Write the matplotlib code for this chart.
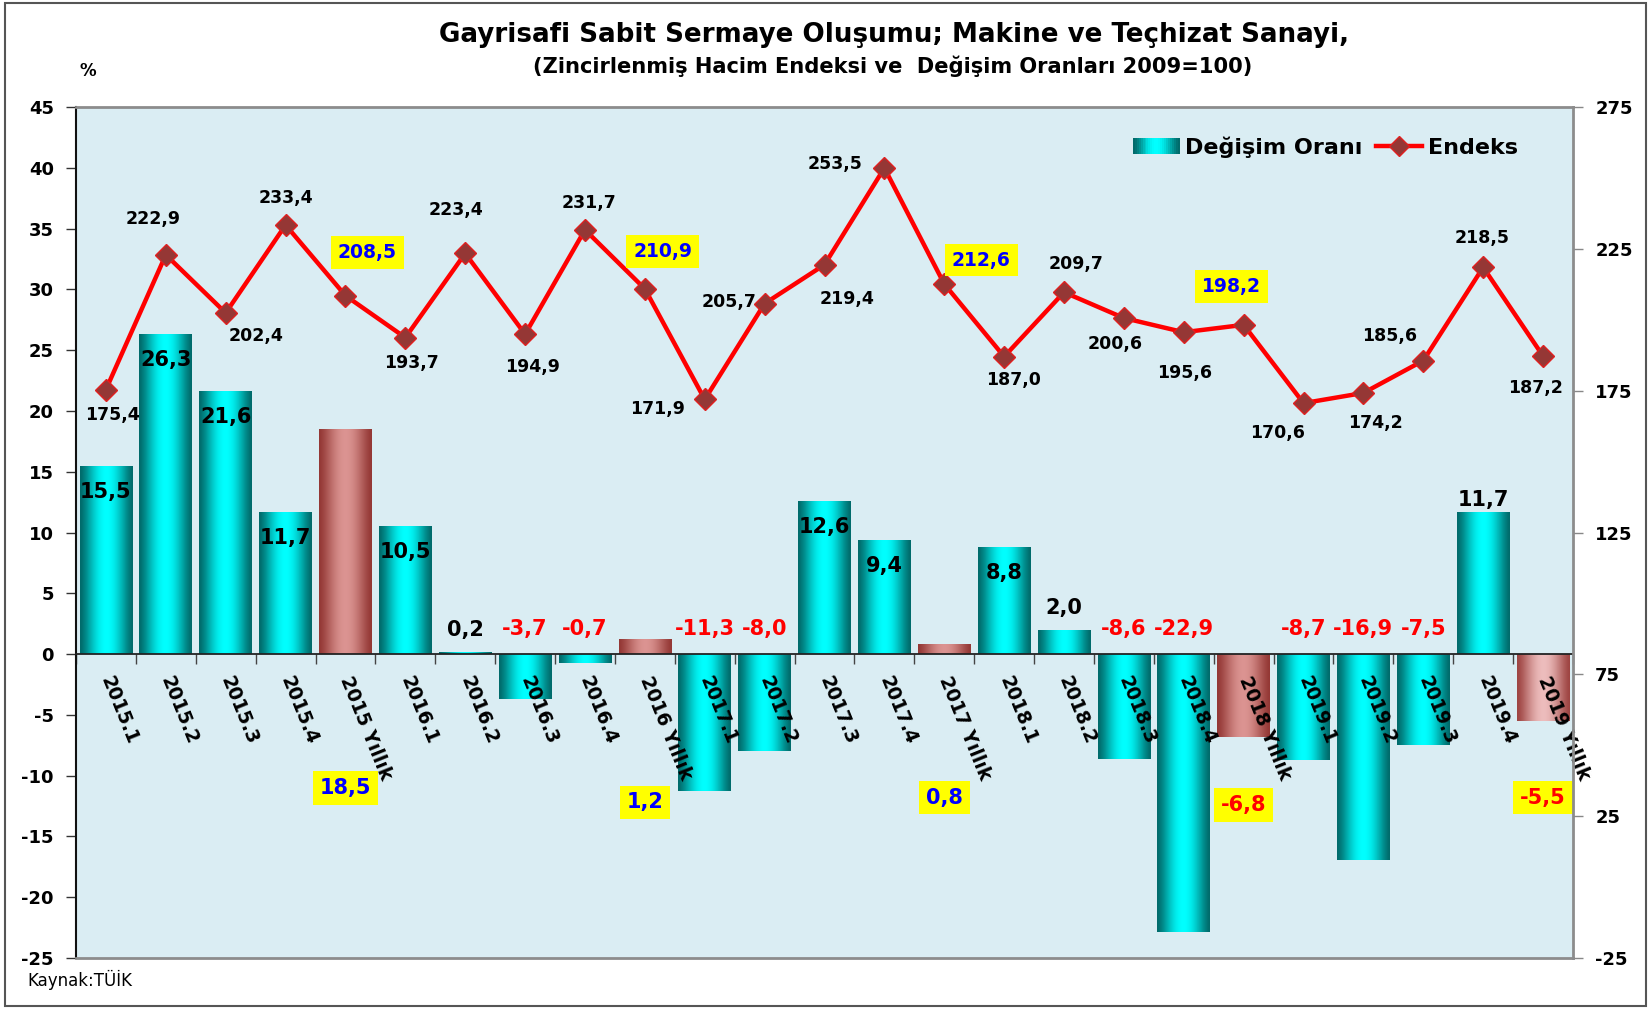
import numpy as np
import matplotlib
matplotlib.use('Agg')
import matplotlib.pyplot as plt
from matplotlib.patches import Rectangle
from matplotlib.lines import Line2D
from matplotlib.legend_handler import HandlerBase

plt.rcParams['font.family'] = ['DejaVu Sans']

# ---------------- data ----------------
categories = ['2015.1', '2015.2', '2015.3', '2015.4', '2015 Yıllık',
              '2016.1', '2016.2', '2016.3', '2016.4', '2016 Yıllık',
              '2017.1', '2017.2', '2017.3', '2017.4', '2017 Yıllık',
              '2018.1', '2018.2', '2018.3', '2018.4', '2018 Yıllık',
              '2019.1', '2019.2', '2019.3', '2019.4', '2019 Yıllık']
degisim = [15.5, 26.3, 21.6, 11.7, 18.5, 10.5, 0.2, -3.7, -0.7, 1.2,
           -11.3, -8.0, 12.6, 9.4, 0.8, 8.8, 2.0, -8.6, -22.9, -6.8,
           -8.7, -16.9, -7.5, 11.7, -5.5]
endeks = [175.4, 222.9, 202.4, 233.4, 208.5, 193.7, 223.4, 194.9, 231.7, 210.9,
          171.9, 205.7, 219.4, 253.5, 212.6, 187.0, 209.7, 200.6, 195.6, 198.2,
          170.6, 174.2, 185.6, 218.5, 187.2]
left_ticks = [-25, -20, -15, -10, -5, 0, 5, 10, 15, 20, 25, 30, 35, 40, 45]
right_ticks = [-25, 25, 75, 125, 175, 225, 275]

title = 'Gayrisafi Sabit Sermaye Oluşumu; Makine ve Teçhizat Sanayi,'
subtitle = '(Zincirlenmiş Hacim Endeksi ve  Değişim Oranları 2009=100)'

# ---------------- styles (label placement, pixels) ----------------
line_lbl_off = [(6, 25), (-13, -36), (30, 23), (0, -27), (22, -43),
                (6, 25), (-9, -43), (7, 33), (4, -27), (18, -37),
                (-47, 10), (-36, -2), (23, 34), (-49, -4), (37, -24),
                (9, 23), (12, -28), (-9, 26), (1, 41), (-12, -38),
                (-26, 30), (12, 30), (-34, -25), (-1, -29), (-8, 32)]
line_lbl_boxed = {4, 9, 14, 19}
bar_lbl_y_year = {4: -11.0, 9: -12.2, 14: -11.8, 19: -12.4, 24: -11.8}

W, H = 1650, 1009
fig = plt.figure(figsize=(W / 100, H / 100), dpi=100)
ax_l, ax_r, ax_t, ax_b = 76, 1573, 107, 958
ax = fig.add_axes([ax_l / W, 1 - ax_b / H, (ax_r - ax_l) / W, (ax_b - ax_t) / H])
ax2 = ax.twinx()

ax.set_facecolor('#DAEDF3')
n = len(categories)
x = np.arange(n)
is_year = ['Yıllık' in c for c in categories]


def gradient(edge, mid, m=96):
    t = np.linspace(0, 1, m)
    w = np.sin(np.pi * t) ** 1.4
    e = np.array(edge)
    c = np.array(mid)
    g = e[None, :] * (1 - w[:, None]) + c[None, :] * w[:, None]
    return g[None, :, :]


cyan_edge, cyan_mid = (0.0, 0.42, 0.42), (0.0, 1.0, 1.0)
year_edge, year_mid = (0.58, 0.22, 0.21), (0.86, 0.58, 0.57)
year2_edge, year2_mid = (0.62, 0.27, 0.26), (0.93, 0.74, 0.74)

bw = 0.88
bars = ax.bar(x, degisim, width=bw, color='none', edgecolor='none', zorder=2)
for i, (b, v) in enumerate(zip(bars, degisim)):
    if is_year[i]:
        if i == n - 1:
            g = gradient(year2_edge, year2_mid)
        else:
            g = gradient(year_edge, year_mid)
    else:
        g = gradient(cyan_edge, cyan_mid)
    x0 = b.get_x()
    im = ax.imshow(g, extent=[x0, x0 + bw, min(0, v), max(0, v)], aspect='auto',
                   interpolation='bilinear', zorder=2)
    im.set_clip_path(b)

ax.set_xlim(-0.5, n - 0.5)
ax.set_ylim(-25, 45)
ax.set_yticks(left_ticks)
ax.set_yticklabels([str(t) for t in left_ticks], fontsize=13, fontweight='bold')
ax.tick_params(axis='y', direction='out', length=7, width=1, color='#333333', pad=9)

# x axis at zero
ax.spines['bottom'].set_position(('data', 0))
ax.spines['bottom'].set_color('#222222')
ax.spines['bottom'].set_linewidth(1.3)
ax.spines['left'].set_color('#111111')
ax.spines['left'].set_linewidth(1.5)
ax.spines['top'].set_visible(False)
ax.spines['right'].set_visible(False)
ax.set_xticks(np.arange(-0.5, n, 1.0))
ax.set_xticklabels([])
ax.tick_params(axis='x', direction='out', length=7, width=1, color='#444444')

for i, c in enumerate(categories):
    ax.annotate(c, xy=(i, 0), xytext=(0, -23), textcoords='offset pixels',
                rotation=-68, rotation_mode='anchor', ha='left', va='center',
                fontsize=13.5, fontweight='bold', color='black', zorder=6)


def fmt(v):
    return f'{v:.1f}'.replace('.', ',')


for i, v in enumerate(degisim):
    if is_year[i]:
        col = '#0000FF' if v > 0 else '#FF0000'
        ax.text(i, bar_lbl_y_year[i], fmt(v), ha='center', va='center', fontsize=15,
                fontweight='bold', color=col, zorder=7,
                bbox=dict(facecolor='#FFFF00', edgecolor='none', pad=5))
    elif v < 0:
        ax.annotate(fmt(v), xy=(i, 0), xytext=(0, 25), textcoords='offset pixels',
                    ha='center', va='center', fontsize=15, fontweight='bold',
                    color='#FF0000', zorder=7)
    elif i == n - 2:
        ax.annotate(fmt(v), xy=(i, v), xytext=(0, 12), textcoords='offset pixels',
                    ha='center', va='center', fontsize=15, fontweight='bold',
                    color='black', zorder=7)
    elif v > 5:
        ax.annotate(fmt(v), xy=(i, v), xytext=(0, -26), textcoords='offset pixels',
                    ha='center', va='center', fontsize=15, fontweight='bold',
                    color='black', zorder=7)
    else:
        ax.annotate(fmt(v), xy=(i, v), xytext=(0, 22), textcoords='offset pixels',
                    ha='center', va='center', fontsize=15, fontweight='bold',
                    color='black', zorder=7)

# ---------------- line on right axis ----------------
ax2.plot(x, endeks, color='#FF0000', lw=3.2, marker='D', markersize=11,
         markerfacecolor='#953735', markeredgecolor='#E02020', markeredgewidth=1.0,
         zorder=4)
ax2.set_ylim(-25, 275)
ax2.set_yticks(right_ticks)
ax2.set_yticklabels([str(t) for t in right_ticks], fontsize=13, fontweight='bold')
ax2.tick_params(axis='y', direction='out', length=7, width=1, color='#888888', pad=9)
for s in ['top', 'right', 'bottom']:
    ax2.spines[s].set_color('#8C8C8C')
    ax2.spines[s].set_linewidth(2)
ax2.spines['left'].set_visible(False)

for i, v in enumerate(endeks):
    dx, dy = line_lbl_off[i]
    if i in line_lbl_boxed:
        ax2.annotate(fmt(v), xy=(i, v), xytext=(dx, -dy), textcoords='offset pixels',
                     ha='center', va='center', fontsize=13.5, fontweight='bold',
                     color='#0000FF', zorder=8,
                     bbox=dict(facecolor='#FFFF00', edgecolor='none', pad=5))
    else:
        ax2.annotate(fmt(v), xy=(i, v), xytext=(dx, -dy), textcoords='offset pixels',
                     ha='center', va='center', fontsize=12.5, fontweight='bold',
                     color='black', zorder=8)


# ---------------- legend ----------------
class GradHandler(HandlerBase):
    def create_artists(self, legend, orig_handle, xdescent, ydescent, width, height,
                       fontsize, trans):
        arts = []
        m = 24
        g = gradient(cyan_edge, cyan_mid, m)[0]
        for k in range(m):
            r = Rectangle((-xdescent + k * width / m, -ydescent), width / m * 1.05, height,
                          facecolor=g[k], edgecolor='none', transform=trans)
            arts.append(r)
        return arts


grad_handle = Rectangle((0, 0), 1, 1)
line_handle = Line2D([], [], color='#FF0000', lw=3.2, marker='D', markersize=10,
                     markerfacecolor='#953735', markeredgecolor='#E02020')
leg = ax2.legend([grad_handle, line_handle], ['Değişim Oranı', 'Endeks'], ncol=2,
                 loc='center right', bbox_to_anchor=(1518 / W, 1 - 147 / H),
                 bbox_transform=fig.transFigure, frameon=False,
                 prop=dict(size=16, weight='bold'), handlelength=2.1,
                 handletextpad=0.25, columnspacing=0.6, borderpad=0, borderaxespad=0,
                 handler_map={grad_handle: GradHandler()})

# ---------------- titles and texts ----------------
t1 = fig.text(894 / W, 1 - 35 / H, title, ha='center', va='center', fontsize=20,
              fontweight='bold')
t2 = fig.text(893 / W, 1 - 66 / H, subtitle, ha='center', va='center', fontsize=16,
              fontweight='bold')
fig.text(88 / W, 1 - 71 / H, '%', ha='center', va='center', fontsize=12, fontweight='bold')
fig.text(27 / W, 1 - 980 / H, 'Kaynak:TÜİK', ha='left', va='center', fontsize=12)

fig.patches.append(Rectangle((5 / W, 3 / H), (1646 - 5) / W, (1006 - 3) / H,
                             transform=fig.transFigure, fill=False,
                             edgecolor='#555555', lw=1.5))

fig.canvas.draw()
r = fig.canvas.get_renderer()
for t, target in [(t1, 909), (t2, 724)]:
    w = t.get_window_extent(r).width
    t.set_fontsize(t.get_fontsize() * target / w)

fig.savefig('out.png', dpi=100)
